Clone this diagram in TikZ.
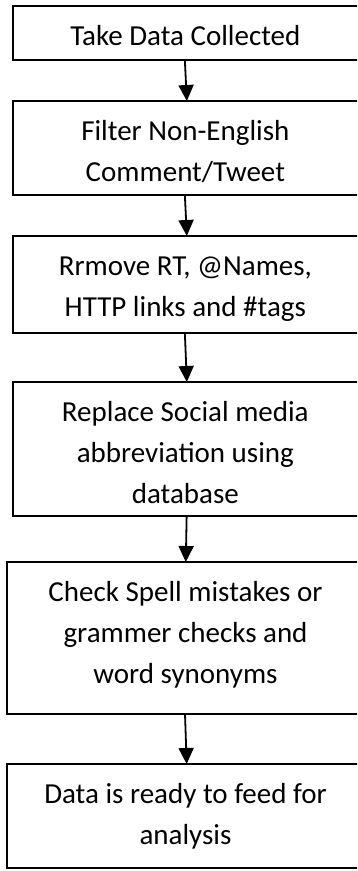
\documentclass[tikz,border=0pt]{standalone}
\usepackage{fontspec}
\setmainfont{Carlito}
\usetikzlibrary{arrows.meta}
% fixed height for the first line of every label, so baselines sit alike
\newcommand{\firststrut}{\rule{0pt}{30pt}}
\begin{document}
\begin{tikzpicture}[x=1pt, y=-1pt,
  stepbox/.style={draw, line width=1.8pt, inner sep=0pt, outer sep=0pt},
  steptext/.style={anchor=north, inner sep=0pt, align=center,
    font=\fontsize{29}{41}\selectfont},
  flow/.style={line width=1.8pt, -{Triangle[width=15pt,length=16pt]}}]
  \useasboundingbox (0,0) rectangle (357,871);
  \clip (0,0) rectangle (357,871);

  % process boxes (their right sides run past the page edge)
  \node[stepbox, minimum width=347.3pt, minimum height=54pt]  (b1) at (186.35,33)    {};
  \node[stepbox, minimum width=347.3pt, minimum height=94pt]  (b2) at (186.35,148)   {};
  \node[stepbox, minimum width=347.3pt, minimum height=97pt]  (b3) at (186.35,284.5) {};
  \node[stepbox, minimum width=347.3pt, minimum height=134pt] (b4) at (186.35,449)   {};
  \node[stepbox, minimum width=356.4pt, minimum height=152pt] (b5) at (185.5,638)    {};
  \node[stepbox, minimum width=356.4pt, minimum height=104pt] (b6) at (185.5,816)    {};

  % box texts
  \node[steptext] (t1) at ([xshift=-1pt,yshift=-9pt]b1.north) {\firststrut Take Data Collected};
  \node[steptext] (t2) at ([xshift=-1pt,yshift=-9pt]b2.north) {\firststrut Filter Non-English\\Comment/Tweet};
  \node[steptext] (t3) at ([xshift=-1pt,yshift=-9pt]b3.north) {\firststrut Rrmove RT, @Names,\\HTTP links and \#tags};
  \node[steptext] (t4) at ([xshift=-1pt,yshift=-9pt]b4.north) {\firststrut Replace Social media\\abbreviation using\\database};
  \node[steptext] (t5) at ([yshift=-9pt]b5.north) {\firststrut Check Spell mistakes or\\grammer checks and\\word synonyms};
  \node[steptext] (t6) at ([yshift=-9pt]b6.north) {\firststrut Data is ready to feed for\\analysis};

  % connectors
  \draw[flow] ([xshift=-1.5pt]b1.south) -- ([xshift=0.5pt]b2.north);
  \draw[flow] ([xshift=-1.5pt]b2.south) -- ([xshift=0.5pt]b3.north);
  \draw[flow] ([xshift=-1.5pt]b3.south) -- ([xshift=0.5pt]b4.north);
  \draw[flow] ([xshift=0.3pt]b4.south)  -- ([xshift=0.3pt]b5.north);
  \draw[flow] ([xshift=-0.5pt]b5.south) -- ([xshift=1.2pt]b6.north);
\end{tikzpicture}
\end{document}
